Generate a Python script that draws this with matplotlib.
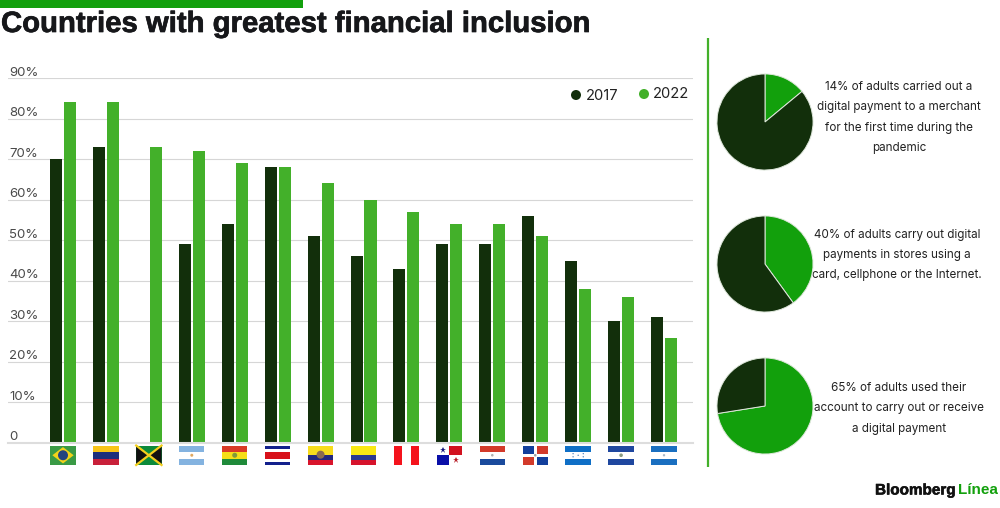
import numpy as np
import matplotlib
matplotlib.use("Agg")
import matplotlib.pyplot as plt
import matplotlib.patheffects as pe
from matplotlib.patches import Rectangle, Polygon, Circle

plt.rcParams['font.family'] = ['Inter', 'DejaVu Sans']

DARK = '#122f0b'
BAR_GREEN = '#43b02a'
PIE_GREEN = '#12a00c'
TEXT = '#222222'

countries = ['Brazil', 'Venezuela', 'Jamaica', 'Argentina', 'Bolivia', 'Costa Rica', 'Ecuador', 'Colombia',
             'Peru', 'Panama', 'Paraguay', 'Dominican Republic', 'Honduras', 'El Salvador', 'Nicaragua']
values_2017 = [70, 73, 0, 49, 54, 68, 51, 46, 43, 49, 49, 56, 45, 30, 31]
values_2022 = [84, 84, 73, 72, 69, 68, 64, 60, 57, 54, 54, 51, 38, 36, 26]
y_ticks = [0, 10, 20, 30, 40, 50, 60, 70, 80, 90]

pie_shares = [14, 40, 72.5]
pie_notes = ["14% of adults carried out a\ndigital payment to a merchant\nfor the first time during the\npandemic",
             "40% of adults carry out digital\npayments in stores using a\ncard, cellphone or the Internet.",
             "65% of adults used their\naccount to carry out or receive\na digital payment"]

W, H = 1000, 508
fig = plt.figure(figsize=(W / 100, H / 100), dpi=100, facecolor='white')

# pixel overlay, y going down, for everything that is not the chart
pg = fig.add_axes([0, 0, 1, 1])
pg.set_xlim(0, W)
pg.set_ylim(H, 0)
pg.axis('off')

# main bars
left, right, y0, y90 = 8, 693, 443, 78
ax = fig.add_axes([left / W, 1 - y0 / H, (right - left) / W, (y0 - y90) / H])
ax.patch.set_alpha(0)
step = 42.93
ax.set_xlim((left - 63) / step, (right - 63) / step)
ax.set_ylim(0, 90)
x = np.arange(len(countries))
ax.bar(x - 0.163, values_2017, 0.28, color=DARK, zorder=3)
ax.bar(x + 0.163, values_2022, 0.28, color=BAR_GREEN, zorder=3)
for s in ax.spines.values():
    s.set_visible(False)
ax.spines['bottom'].set_visible(True)
ax.spines['bottom'].set_color('#dddddd')
ax.spines['bottom'].set_linewidth(1.5)
ax.spines['bottom'].set_zorder(5)
ax.set_xticks([])
ax.set_yticks([])
for t in y_ticks:
    if t:
        ax.axhline(t, color='#d6d6d6', lw=0.8, zorder=1)
    pg.text(9, y0 - t * (y0 - y90) / 90 - 5.5, f'{t}%' if t else '0', fontsize=9.5, color='#4a4a4a',
            ha='left', va='center')

# title and rules
pg.add_patch(Rectangle((0, 0), 303, 7.5, color=PIE_GREEN, lw=0))
heavy = [pe.withStroke(linewidth=0.5, foreground='#16171a')]
pg.text(1, 24, 'Countries with greatest financial inclusion', fontsize=21.1, fontweight='bold',
        family=['Liberation Sans', 'DejaVu Sans'], color='#16171a', ha='left', va='center', path_effects=heavy)
pg.plot([707.5, 707.5], [38, 467], color=BAR_GREEN, lw=1.6, solid_capstyle='butt')

# legend
pg.add_patch(Circle((576, 95), 5, color=DARK, lw=0))
pg.text(586, 95.5, '2017', fontsize=10.6, color=TEXT, ha='left', va='center')
pg.add_patch(Circle((644, 94), 5, color=BAR_GREEN, lw=0))
pg.text(653, 94.5, '2022', fontsize=10.6, color=TEXT, ha='left', va='center')


# flags, unit square drawn into pixel box
def stripes(b, cols, weights=None):
    weights = weights or [1] * len(cols)
    total = sum(weights)
    px, py, w, h = b
    top = py
    for c, wt in zip(cols, weights):
        pg.add_patch(Rectangle((px, top), w, h * wt / total, color=c, lw=0))
        top += h * wt / total


def mark(b, u, v, r, col):
    pg.add_patch(Circle((b[0] + u * b[2], b[1] + v * b[3]), r, color=col, lw=0))


def poly(b, pts, col):
    pg.add_patch(Polygon([(b[0] + u * b[2], b[1] + v * b[3]) for u, v in pts], color=col, lw=0))


def draw_flag(name, b):
    blue = '#1a6fc0'
    if name == 'Brazil':
        stripes(b, ['#3a9a45'])
        poly(b, [(0.08, 0.5), (0.5, 0.08), (0.92, 0.5), (0.5, 0.92)], '#f2d21a')
        mark(b, 0.5, 0.5, 5, '#23447f')
    elif name == 'Venezuela':
        stripes(b, ['#f7c418', '#1d2f7c', '#c8203a'])
    elif name == 'Jamaica':
        stripes(b, ['#0b8a3a'])
        poly(b, [(0, 0), (0.5, 0.5), (0, 1)], '#111111')
        poly(b, [(1, 0), (0.5, 0.5), (1, 1)], '#111111')
        pg.plot([b[0], b[0] + b[2]], [b[1], b[1] + b[3]], color='#f4cf1d', lw=1.6)
        pg.plot([b[0], b[0] + b[2]], [b[1] + b[3], b[1]], color='#f4cf1d', lw=1.6)
    elif name == 'Argentina':
        stripes(b, ['#84b3e0', '#ffffff', '#84b3e0'])
        mark(b, 0.5, 0.5, 1.5, '#e0a860')
    elif name == 'Bolivia':
        stripes(b, ['#d83a26', '#f5de16', '#1f8a3a'])
        mark(b, 0.5, 0.5, 2.5, '#7f9a3a')
    elif name == 'Costa Rica':
        stripes(b, ['#13208c', '#ffffff', '#d8111a', '#ffffff', '#13208c'], [1, 1, 2, 1, 1])
    elif name == 'Ecuador':
        stripes(b, ['#f7dc1c', '#22277f', '#d8142c'], [2, 1, 1])
        mark(b, 0.5, 0.47, 4, '#8a6a50')
    elif name == 'Colombia':
        stripes(b, ['#f9e813', '#2a3990', '#d6132c'], [2, 1, 1])
    elif name == 'Peru':
        c = b[2] / 3
        pg.add_patch(Rectangle((b[0], b[1]), c, b[3], color='#f4131c', lw=0))
        pg.add_patch(Rectangle((b[0] + 2 * c, b[1]), c, b[3], color='#f4131c', lw=0))
    elif name == 'Panama':
        w, h = b[2] / 2, b[3] / 2
        pg.add_patch(Rectangle((b[0] + w, b[1]), w, h, color='#d2121f', lw=0))
        pg.add_patch(Rectangle((b[0], b[1] + h), w, h, color='#0a0fa8', lw=0))
        pg.plot([b[0] + w / 2], [b[1] + h / 2], marker='*', ms=5, color='#16167f', mew=0)
        pg.plot([b[0] + 1.5 * w], [b[1] + 1.5 * h], marker='*', ms=5, color='#b8202a', mew=0)
    elif name == 'Paraguay':
        stripes(b, ['#d23a2a', '#ffffff', '#1a4a9c'])
        mark(b, 0.5, 0.5, 1.3, '#b0b0b0')
    elif name == 'Dominican Republic':
        w, h = b[2] * 0.44, b[3] * 0.42
        for u, v, c in [(0, 0, '#123f9c'), (0.56, 0, '#d23a2a'), (0, 0.58, '#d23a2a'), (0.56, 0.58, '#123f9c')]:
            pg.add_patch(Rectangle((b[0] + u * b[2], b[1] + v * b[3]), w, h, color=c, lw=0))
        mark(b, 0.5, 0.5, 1.3, '#a0a0a0')
    elif name == 'Honduras':
        stripes(b, ['#0f6fc6', '#ffffff', '#0f6fc6'])
        for u, v in [(0.3, 0.42), (0.3, 0.58), (0.5, 0.5), (0.7, 0.42), (0.7, 0.58)]:
            mark(b, u, v, 0.6, '#1a5fa8')
    elif name == 'El Salvador':
        stripes(b, ['#1f479f', '#ffffff', '#1f479f'])
        mark(b, 0.5, 0.5, 1.8, '#8a9a80')
    elif name == 'Nicaragua':
        stripes(b, [blue, '#ffffff', blue])
        mark(b, 0.5, 0.5, 1.2, '#a8b8c8')


for i, name in enumerate(countries):
    cx = ax.transData.transform((i, 0))[0]
    draw_flag(name, (cx - 12.7, 445.5, 25.4, 19.5))

# pies
pie_y = [122, 264, 406]
note_x = [899, 897, 899]
note_y = [117.5, 255, 408.5]
for share, note, py, nx, ny in zip(pie_shares, pie_notes, pie_y, note_x, note_y):
    r = 49
    a = fig.add_axes([(765 - r) / W, 1 - (py + r) / H, 2 * r / W, 2 * r / H])
    a.pie([share, 100 - share], colors=[PIE_GREEN, DARK], startangle=90, counterclock=False, radius=1,
          wedgeprops=dict(edgecolor='#dfe8dc', linewidth=0.7))
    a.set_xlim(-1.02, 1.02)
    a.set_ylim(-1.02, 1.02)
    pg.text(nx, ny, note, fontsize=8.4, color=TEXT, ha='center', va='center', linespacing=1.93)

# logo
pg.text(875, 490.5, 'Bloomberg', fontsize=11, fontweight='bold', color='#111111', ha='left', va='center',
        family=['Liberation Sans', 'DejaVu Sans'], path_effects=[pe.withStroke(linewidth=0.4, foreground='#111111')])
pg.text(958, 490.5, 'Línea', fontsize=11, fontweight='bold', color=PIE_GREEN, ha='left', va='center',
        family=['Liberation Sans', 'DejaVu Sans'])

fig.savefig('out.png', dpi=100)
